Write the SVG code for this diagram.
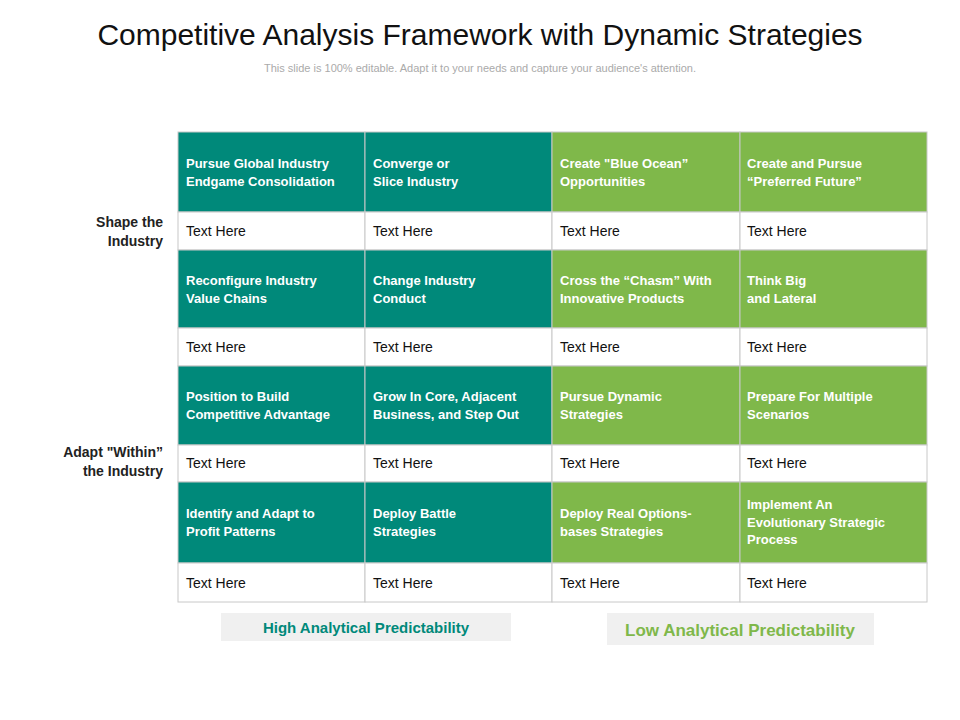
<svg xmlns="http://www.w3.org/2000/svg" width="960" height="720" viewBox="0 0 960 720">
<style>
text{font-family:"Liberation Sans",Arial,sans-serif}
.t{fill:#00897a}.g{fill:#7fb84a}.w{fill:#fff}
.cell{stroke:#c8c8c8;stroke-width:1}
.h{font-size:13px;font-weight:bold;fill:#fff}
.b{font-size:14px;fill:#111}
.side{font-size:14px;font-weight:bold;fill:#222;text-anchor:end}
</style>
<rect width="960" height="720" fill="#fff"/>
<text x="480" y="45" font-size="30" text-anchor="middle" fill="#111">Competitive Analysis Framework with Dynamic Strategies</text>
<text x="480" y="72" font-size="11" text-anchor="middle" fill="#aaa">This slide is 100% editable. Adapt it to your needs and capture your audience's attention.</text>
<g id="side">
<text class="side" x="163" y="227">Shape the</text><text class="side" x="163" y="246">Industry</text>
<text class="side" x="163" y="457">Adapt "Within”</text><text class="side" x="163" y="476">the Industry</text>
</g>
<g id="grid">
<rect class="cell t" x="178" y="132" width="187" height="80"/><rect class="cell t" x="365" y="132" width="187" height="80"/><rect class="cell g" x="552" y="132" width="188" height="80"/><rect class="cell g" x="740" y="132" width="187" height="80"/>
<rect class="cell w" x="178" y="212" width="187" height="38"/><rect class="cell w" x="365" y="212" width="187" height="38"/><rect class="cell w" x="552" y="212" width="188" height="38"/><rect class="cell w" x="740" y="212" width="187" height="38"/>
<rect class="cell t" x="178" y="250" width="187" height="78"/><rect class="cell t" x="365" y="250" width="187" height="78"/><rect class="cell g" x="552" y="250" width="188" height="78"/><rect class="cell g" x="740" y="250" width="187" height="78"/>
<rect class="cell w" x="178" y="328" width="187" height="38"/><rect class="cell w" x="365" y="328" width="187" height="38"/><rect class="cell w" x="552" y="328" width="188" height="38"/><rect class="cell w" x="740" y="328" width="187" height="38"/>
<rect class="cell t" x="178" y="366" width="187" height="79"/><rect class="cell t" x="365" y="366" width="187" height="79"/><rect class="cell g" x="552" y="366" width="188" height="79"/><rect class="cell g" x="740" y="366" width="187" height="79"/>
<rect class="cell w" x="178" y="445" width="187" height="37"/><rect class="cell w" x="365" y="445" width="187" height="37"/><rect class="cell w" x="552" y="445" width="188" height="37"/><rect class="cell w" x="740" y="445" width="187" height="37"/>
<rect class="cell t" x="178" y="482" width="187" height="81"/><rect class="cell t" x="365" y="482" width="187" height="81"/><rect class="cell g" x="552" y="482" width="188" height="81"/><rect class="cell g" x="740" y="482" width="187" height="81"/>
<rect class="cell w" x="178" y="563" width="187" height="39"/><rect class="cell w" x="365" y="563" width="187" height="39"/><rect class="cell w" x="552" y="563" width="188" height="39"/><rect class="cell w" x="740" y="563" width="187" height="39"/>
</g>
<g id="headers">
<text class="h" x="186" y="168">Pursue Global Industry</text><text class="h" x="186" y="186">Endgame Consolidation</text>
<text class="h" x="373" y="168">Converge or</text><text class="h" x="373" y="186">Slice Industry</text>
<text class="h" x="560" y="168">Create "Blue Ocean”</text><text class="h" x="560" y="186">Opportunities</text>
<text class="h" x="747" y="168">Create and  Pursue</text><text class="h" x="747" y="186">“Preferred Future”</text>
<text class="h" x="186" y="285">Reconfigure Industry</text><text class="h" x="186" y="303">Value Chains</text>
<text class="h" x="373" y="285">Change Industry</text><text class="h" x="373" y="303">Conduct</text>
<text class="h" x="560" y="285">Cross the “Chasm” With</text><text class="h" x="560" y="303">Innovative Products</text>
<text class="h" x="747" y="285">Think Big</text><text class="h" x="747" y="303">and Lateral</text>
<text class="h" x="186" y="401">Position to Build</text><text class="h" x="186" y="419">Competitive Advantage</text>
<text class="h" x="373" y="401">Grow In Core, Adjacent</text><text class="h" x="373" y="419">Business, and Step Out</text>
<text class="h" x="560" y="401">Pursue Dynamic</text><text class="h" x="560" y="419">Strategies</text>
<text class="h" x="747" y="401">Prepare For Multiple</text><text class="h" x="747" y="419">Scenarios</text>
<text class="h" x="186" y="518">Identify and Adapt  to</text><text class="h" x="186" y="536">Profit Patterns</text>
<text class="h" x="373" y="518">Deploy Battle</text><text class="h" x="373" y="536"> Strategies</text>
<text class="h" x="560" y="518">Deploy Real Options-</text><text class="h" x="560" y="536">bases Strategies</text>
<text class="h" x="747" y="509">Implement An</text><text class="h" x="747" y="527">Evolutionary Strategic</text><text class="h" x="747" y="544">Process</text>
</g>
<g id="body">
<text class="b" x="186" y="236">Text Here</text><text class="b" x="373" y="236">Text Here</text><text class="b" x="560" y="236">Text Here</text><text class="b" x="747" y="236">Text Here</text>
<text class="b" x="186" y="352">Text Here</text><text class="b" x="373" y="352">Text Here</text><text class="b" x="560" y="352">Text Here</text><text class="b" x="747" y="352">Text Here</text>
<text class="b" x="186" y="468">Text Here</text><text class="b" x="373" y="468">Text Here</text><text class="b" x="560" y="468">Text Here</text><text class="b" x="747" y="468">Text Here</text>
<text class="b" x="186" y="588">Text Here</text><text class="b" x="373" y="588">Text Here</text><text class="b" x="560" y="588">Text Here</text><text class="b" x="747" y="588">Text Here</text>
</g>
<g id="labels">
<rect x="221" y="613" width="290" height="28" fill="#f0f0f0"/>
<text x="366" y="633" font-size="15" font-weight="bold" fill="#00897a" text-anchor="middle">High Analytical  Predictability</text>
<rect x="607" y="613" width="267" height="32" fill="#f0f0f0"/>
<text x="740" y="636" font-size="17" font-weight="bold" fill="#7fb84a" text-anchor="middle">Low Analytical Predictability</text>
</g>
</svg>
